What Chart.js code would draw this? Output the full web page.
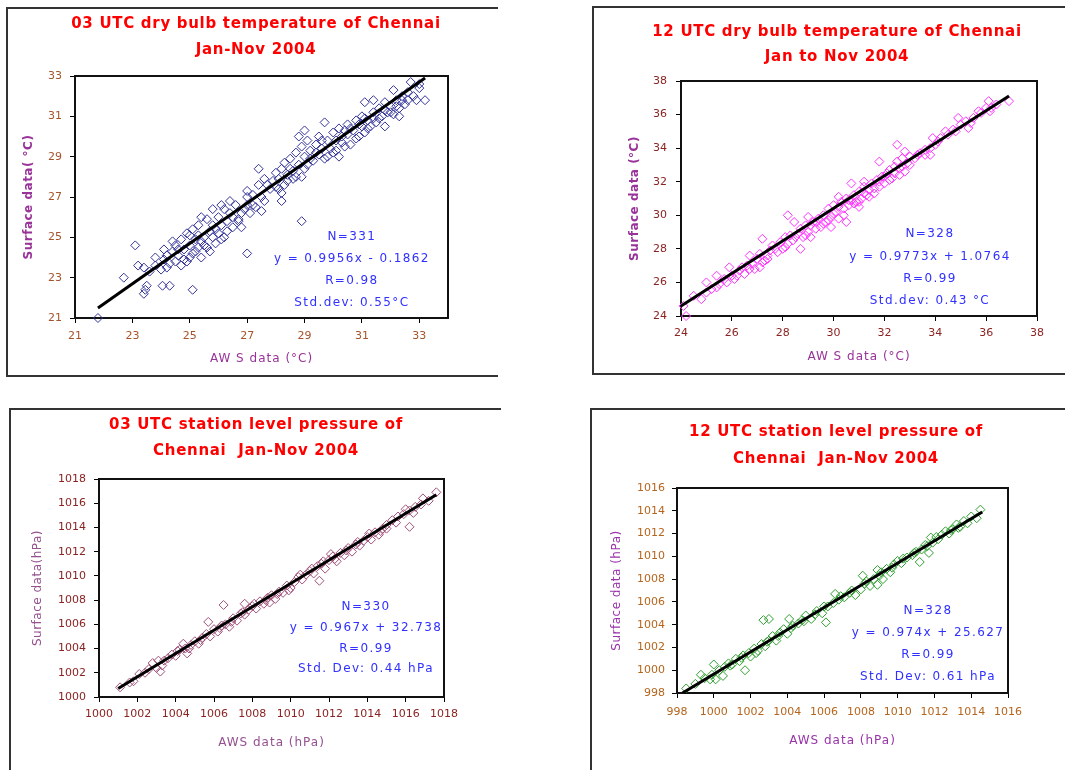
<!DOCTYPE html>
<html>
<head>
<meta charset="utf-8">
<script src="https://cdn.jsdelivr.net/npm/chart.js@4.4.1/dist/chart.umd.min.js"></script>
<style>
  body { margin: 0; width: 1065px; height: 770px; overflow: hidden; background: #fff; position: relative; }
  .box { position: absolute; border-top: 2px solid #333; border-left: 2px solid #333; border-bottom: 2px solid #333; }
  canvas { position: absolute; }
</style>
</head>
<body>
<div class="box" style="left:6px;top:7px;width:490px;height:366px"></div>
<div class="box" style="left:592px;top:6px;width:480px;height:365px"></div>
<div class="box" style="left:9px;top:408px;width:490px;height:400px"></div>
<div class="box" style="left:590px;top:408px;width:480px;height:400px"></div>
<canvas id="t03" width="449" height="364" style="left:9px;top:10px"></canvas>
<canvas id="t12" width="470" height="362" style="left:595px;top:9px"></canvas>
<canvas id="p03" width="458" height="359" style="left:12px;top:411px"></canvas>
<canvas id="p12" width="472" height="359" style="left:593px;top:411px"></canvas>
<script>
// 03 UTC dry bulb temperature, [AWS, surface] in °C
const t03Points = [
  [21.8,21.0],[22.7,23.0],[23.1,24.6],[23.2,23.6],[23.4,22.2],[23.45,22.4],[23.5,22.6],[23.4,23.5],
  [23.8,24.0],[24.05,22.6],[24.3,22.6],[24.1,24.4],[25.1,22.4],[24.4,24.8],[25.4,26.0],[25.8,26.4],
  [26.1,26.6],[26.4,26.8],[26.7,25.8],[26.8,25.5],[27.0,24.2],[27.0,27.3],[27.4,28.4],[28.2,26.8],
  [28.9,25.8],[28.8,30.0],[29.0,30.3],[29.7,30.7],[31.1,31.7],[31.4,31.8],[31.8,30.5],[32.1,32.3],
  [32.7,32.7],[32.9,31.8],[33.2,31.8],[33.0,32.4],[28.2,27.2],
  [23.6,23.3],[23.8,23.6],[24.0,23.4],[24.1,23.9],[24.2,24.1],[24.3,23.7],[24.4,24.3],[24.5,23.8],
  [24.5,24.6],[24.6,24.1],[24.7,23.6],[24.7,24.9],[24.8,24.4],[24.9,23.8],[24.9,25.2],[25.0,24.6],
  [25.0,24.0],[25.1,25.4],[25.2,24.3],[25.2,24.9],[25.3,25.6],[25.3,24.5],[25.4,24.0],[25.5,25.0],
  [25.5,24.6],[25.6,25.9],[25.7,25.3],[25.7,24.3],[25.8,25.6],[25.9,24.7],[26.0,25.2],[26.0,26.0],
  [26.1,25.6],[26.2,26.4],[26.2,25.0],[26.3,25.8],[26.4,26.2],[26.5,25.5],[26.6,26.6],[26.7,25.9],
  [26.9,26.4],[27.0,27.0],[27.0,26.6],[27.1,26.2],[27.2,27.1],[27.3,26.5],[27.4,27.6],[27.5,27.0],
  [27.6,26.8],[27.6,27.9],[27.8,27.4],[27.9,27.8],[28.0,28.2],[28.0,27.5],[28.1,27.9],[28.2,28.4],
  [28.3,27.6],[28.3,28.7],[28.4,28.1],[28.5,28.9],[28.6,28.3],[28.6,27.9],[28.7,29.2],[28.8,28.6],
  [28.9,28.0],[28.9,29.5],[29.0,29.0],[29.1,28.6],[29.1,29.8],[29.2,29.3],[29.3,28.8],[29.4,29.6],
  [29.5,29.1],[29.5,30.0],[29.6,29.4],[29.7,28.9],[29.8,29.8],[29.9,29.4],[30.0,30.2],[30.0,29.2],
  [30.1,29.8],[30.2,30.4],[30.2,29.0],[30.3,30.0],[30.4,29.5],[30.5,30.6],[30.5,30.1],[30.6,29.6],
  [30.7,30.3],[30.8,30.8],[30.9,30.0],[31.0,30.5],[31.0,31.0],[31.1,30.2],[31.2,30.8],[31.3,30.5],
  [31.4,31.2],[31.5,30.7],[31.6,31.4],[31.7,31.0],[31.8,31.7],[31.9,31.2],[32.0,31.5],[32.1,31.1],
  [32.2,31.8],[32.3,31.4],[32.4,32.0],[32.5,31.6],[32.6,32.2],[32.8,32.0],[33.0,32.6],
  [24.2,23.5],[24.6,24.4],[24.8,23.9],[25.0,25.1],[25.1,24.2],[25.3,25.1],[25.4,24.8],[25.6,24.5],
  [25.8,25.0],[25.9,25.4],[26.1,24.9],[26.3,25.3],[26.5,26.0],[26.8,26.2],[27.2,26.6],[27.5,26.3],
  [27.7,27.6],[28.1,27.4],[28.4,27.8],[28.5,28.4],[28.7,28.0],[29.0,28.4],[29.2,28.9],[29.4,29.2],
  [29.6,29.8],[29.8,29.0],[30.1,29.3],[30.3,29.7],[30.4,30.3],[30.6,30.4],[30.8,29.9],[30.9,30.6],
  [31.1,30.9],[31.2,30.4],[31.4,30.9],[31.6,30.9],[31.8,31.3],[32.0,31.2],[32.2,31.5],[32.4,31.8],
  [32.3,31.0],[32.6,31.8]
];
const t03Fit = [[21.8,21.5],[33.2,32.9]];
const t03XTicks = [21,23,25,27,29,31,33];
const t03YTicks = [21,23,25,27,29,31,33];
const t03Stats = ['N=331', 'y = 0.9956x - 0.1862', 'R=0.98', 'Std.dev: 0.55°C'];

// 12 UTC dry bulb temperature
const t12Points = [
  [24.2,24.0],[24.1,24.6],[24.5,25.2],[24.8,25.0],[25.0,26.0],[25.4,26.4],[25.9,26.9],[26.2,26.4],
  [26.7,27.6],[27.1,26.9],[27.2,28.6],[27.4,27.4],[28.2,30.0],[28.45,29.6],[28.7,28.0],[29.0,29.9],
  [29.9,29.3],[30.2,31.1],[30.5,29.6],[30.7,31.9],[31.0,30.5],[31.2,32.0],[31.8,33.2],[32.5,34.2],
  [32.6,32.4],[32.8,33.8],[32.8,32.6],[33.8,33.6],[33.9,34.6],[34.4,35.0],[34.9,35.8],[35.3,35.2],
  [35.7,36.2],[36.1,36.8],[36.15,36.2],[36.9,36.8],
  [25.2,25.6],[25.5,25.9],[25.7,26.2],[25.8,26.0],[26.0,26.4],[26.3,26.7],[26.5,26.5],[26.6,27.0],
  [26.8,27.1],[26.9,26.8],[27.0,27.4],[27.1,27.7],[27.3,27.3],[27.5,27.9],[27.6,28.2],[27.8,27.8],
  [27.9,28.4],[28.0,28.0],[28.1,28.7],[28.2,28.3],[28.3,28.8],[28.4,28.5],[28.6,28.9],[28.7,29.2],
  [28.8,28.7],[28.9,29.4],[29.0,29.0],[29.1,28.7],[29.2,29.6],[29.3,29.2],[29.4,29.8],[29.5,29.3],
  [29.6,30.0],[29.7,29.6],[29.8,30.4],[29.9,29.9],[30.0,30.6],[30.1,30.2],[30.2,29.8],[30.3,30.8],
  [30.4,30.4],[30.5,31.0],[30.6,30.6],[30.7,30.9],[30.8,31.2],[30.9,30.8],[31.0,31.4],[31.1,31.0],
  [31.2,31.7],[31.3,31.2],[31.4,31.5],[31.5,31.9],[31.6,31.3],[31.7,32.1],[31.8,31.7],[31.9,32.3],
  [32.0,31.9],[32.1,32.5],[32.2,32.7],[32.3,32.2],[32.4,32.9],[32.5,33.2],[32.6,32.8],[32.7,33.4],
  [32.9,33.1],[33.0,33.5],[33.2,33.4],[33.4,33.7],[33.6,33.9],[33.8,34.0],[34.0,34.2],[34.2,34.6],
  [34.5,34.8],[34.7,35.1],[35.0,35.4],[35.2,35.6],[35.5,35.8],[35.8,36.1],[36.0,36.4],[36.4,36.6],
  [25.0,25.4],[25.4,25.7],[26.1,26.2],[26.4,26.9],[26.7,26.8],[27.2,27.2],[27.4,27.6],[27.7,28.0],
  [28.1,28.1],[28.5,28.7],[28.9,28.8],[29.1,29.4],[29.3,29.6],[29.6,29.5],[29.8,29.7],[30.0,30.1],
  [30.2,30.5],[30.4,30.0],[30.6,30.9],[30.8,30.7],[31.0,30.8],[31.2,31.3],[31.4,31.1],[31.6,31.6],
  [31.8,32.0],[32.0,32.3],[32.2,32.1],[32.4,32.5],[32.7,32.9],[33.0,33.0],[33.3,33.6],[33.6,33.6],
  [34.1,34.4],[34.8,35.0],[35.4,35.5],[36.2,36.4]
];
const t12Fit = [[24.0,24.6],[36.9,37.1]];
const t12XTicks = [24,26,28,30,32,34,36,38];
const t12YTicks = [24,26,28,30,32,34,36,38];
const t12Stats = ['N=328', 'y = 0.9773x + 1.0764', 'R=0.99', 'Std.dev: 0.43 °C'];

// 03 UTC station level pressure, hPa
const p03Points = [
  [1001.1,1000.8],[1001.6,1001.2],[1002.1,1001.9],[1002.8,1002.8],[1003.2,1002.1],[1003.1,1003.0],
  [1004.4,1004.4],[1004.6,1003.6],[1005.7,1006.2],[1006.5,1007.6],[1007.6,1007.7],[1008.9,1007.8],
  [1011.5,1009.6],[1012.1,1011.8],[1016.2,1014.05],[1017.6,1016.9],[1015.0,1013.9],[1016.9,1016.4],
  [1001.8,1001.3],[1002.4,1002.0],[1003.0,1002.4],[1003.4,1003.0],[1003.6,1003.2],[1003.8,1003.5],
  [1004.0,1003.4],[1004.2,1003.9],[1004.5,1004.0],[1004.8,1004.3],[1005.0,1004.6],[1005.2,1004.4],
  [1005.4,1004.9],[1005.6,1005.2],[1005.8,1005.0],[1006.0,1005.6],[1006.2,1005.4],[1006.4,1005.9],
  [1006.6,1006.0],[1006.8,1005.8],[1007.0,1006.5],[1007.2,1006.3],[1007.4,1006.9],[1007.6,1006.8],
  [1007.8,1007.2],[1008.0,1007.5],[1008.2,1007.3],[1008.4,1007.9],[1008.6,1007.7],[1008.8,1008.2],
  [1009.0,1008.4],[1009.2,1008.1],[1009.4,1008.7],[1009.6,1008.6],[1009.8,1009.2],[1010.0,1009.0],
  [1010.2,1009.5],[1010.4,1009.9],[1010.6,1009.7],[1010.8,1010.1],[1011.0,1010.4],[1011.2,1010.2],
  [1011.4,1010.8],[1011.6,1011.0],[1011.8,1010.6],[1012.0,1011.3],[1012.2,1011.6],[1012.4,1011.2],
  [1012.6,1011.9],[1012.8,1011.7],[1013.0,1012.3],[1013.2,1012.0],[1013.4,1012.6],[1013.6,1012.5],
  [1013.8,1012.9],[1014.0,1013.2],[1014.2,1013.0],[1014.4,1013.6],[1014.6,1013.4],[1014.8,1013.9],
  [1015.0,1014.2],[1015.3,1014.6],[1015.6,1014.9],[1015.9,1015.1],[1016.2,1015.4],[1016.5,1015.7],
  [1016.8,1015.9],
  [1002.6,1002.3],[1003.3,1002.6],[1004.1,1003.8],[1004.7,1004.0],[1005.3,1004.7],[1006.3,1005.7],
  [1006.9,1006.2],[1007.5,1007.0],[1008.1,1007.7],[1008.7,1008.0],[1009.3,1008.5],[1009.9,1008.8],
  [1010.5,1010.1],[1011.1,1010.6],[1011.7,1011.2],[1012.3,1011.4],[1012.9,1012.1],[1013.5,1012.8],
  [1014.1,1013.5],[1014.7,1013.7],[1015.5,1014.4],[1016.0,1015.5],[1016.4,1015.2],[1017.2,1016.2]
];
const p03Fit = [[1001.0,1000.7],[1017.6,1016.7]];
const p03XTicks = [1000,1002,1004,1006,1008,1010,1012,1014,1016,1018];
const p03YTicks = [1000,1002,1004,1006,1008,1010,1012,1014,1016,1018];
const p03Stats = ['N=330', 'y = 0.967x + 32.738', 'R=0.99', 'Std. Dev: 0.44 hPa'];

// 12 UTC station level pressure
const p12Points = [
  [998.5,998.4],[999.3,999.6],[999.8,999.2],[1000.0,1000.5],[1000.1,999.2],[1000.5,999.5],
  [1001.7,1000.0],[1002.7,1004.4],[1003.0,1004.5],[1004.1,1004.5],[1006.1,1004.2],[1006.6,1006.7],
  [1008.1,1008.3],[1008.9,1008.8],[1008.9,1007.5],[1011.2,1009.5],[1011.7,1010.3],[1011.8,1011.65],
  [1014.5,1014.1],[1014.3,1013.35],
  [999.0,998.8],[999.5,999.3],[1000.3,1000.0],[1000.6,1000.3],[1000.8,1000.6],[1001.0,1000.5],
  [1001.2,1001.0],[1001.4,1000.8],[1001.6,1001.3],[1001.9,1001.5],[1002.0,1001.2],[1002.2,1001.9],
  [1002.4,1001.7],[1002.6,1002.3],[1002.8,1002.1],[1003.0,1002.6],[1003.2,1003.0],[1003.4,1002.6],
  [1003.6,1003.3],[1003.8,1003.6],[1004.0,1003.2],[1004.3,1003.9],[1004.6,1004.1],[1004.8,1004.4],
  [1005.0,1004.8],[1005.3,1004.5],[1005.6,1005.2],[1005.9,1005.0],[1006.2,1005.6],[1006.5,1005.9],
  [1006.8,1006.2],[1007.1,1006.4],[1007.4,1006.8],[1007.7,1006.6],[1008.0,1007.1],[1008.2,1007.6],
  [1008.5,1007.4],[1008.7,1008.0],[1009.0,1008.3],[1009.2,1008.0],[1009.4,1008.9],[1009.6,1008.6],
  [1009.8,1009.3],[1010.0,1009.6],[1010.2,1009.4],[1010.5,1009.9],[1010.8,1010.1],[1011.0,1010.4],
  [1011.3,1010.6],[1011.5,1011.0],[1011.9,1011.2],[1012.2,1011.5],[1012.4,1011.9],[1012.6,1012.2],
  [1012.8,1012.0],[1013.0,1012.4],[1013.2,1012.8],[1013.4,1012.6],[1013.6,1013.1],[1013.8,1012.9],
  [999.9,999.6],[1000.9,1000.4],[1001.5,1001.1],[1002.3,1001.5],[1002.9,1002.5],[1003.5,1003.0],
  [1004.2,1003.7],[1004.9,1004.3],[1005.5,1004.9],[1006.0,1005.6],[1006.9,1006.5],[1007.5,1007.0],
  [1008.3,1007.8],[1009.1,1008.6],[1009.7,1009.0],[1010.3,1009.8],[1010.9,1010.3],[1011.6,1010.9],
  [1012.1,1011.7],[1012.9,1012.3],[1013.3,1012.5],[1014.0,1013.5]
];
const p12Fit = [[998.3,998.0],[1014.6,1013.9]];
const p12XTicks = [998,1000,1002,1004,1006,1008,1010,1012,1014,1016];
const p12YTicks = [998,1000,1002,1004,1006,1008,1010,1012,1014,1016];
const p12Stats = ['N=328', 'y = 0.974x + 25.627', 'R=0.99', 'Std. Dev: 0.61 hPa'];

Chart.defaults.font.family = '"DejaVu Sans", Verdana, sans-serif';
Chart.defaults.animation = false;

// plot frame, two-line red title and spaced-out axis titles
const framePlugin = {
  id: 'frame',
  beforeDatasetsDraw(chart, args, opts) {
    const { ctx, chartArea: a } = chart;
    ctx.save();
    ctx.strokeStyle = '#111';
    ctx.lineWidth = 2;
    ctx.strokeRect(a.left, a.top, a.right - a.left, a.bottom - a.top);
    ctx.textAlign = 'center';
    ctx.textBaseline = 'middle';

    ctx.font = 'bold 15px "DejaVu Sans"';
    ctx.letterSpacing = '0.7px';
    ctx.fillStyle = '#ff0000';
    opts.title.forEach((t, i) => ctx.fillText(t, opts.titleX, opts.titleY[i]));

    ctx.fillStyle = opts.axisColor;
    ctx.font = '12px "DejaVu Sans"';
    ctx.letterSpacing = '1px';
    ctx.fillText(opts.xTitle, (a.left + a.right) / 2, a.bottom + opts.xTitleOff);

    ctx.font = (opts.yTitleBold ? 'bold ' : '') + '12px "DejaVu Sans"';
    ctx.letterSpacing = '0.5px';
    ctx.translate(a.left - opts.yTitleOff, (a.top + a.bottom) / 2);
    ctx.rotate(-Math.PI / 2);
    ctx.fillText(opts.yTitle, 0, 0);
    ctx.restore();
  }
};

// regression statistics text, anchored in data units
const statsPlugin = {
  id: 'stats',
  afterDatasetsDraw(chart, args, opts) {
    const { ctx, scales: { x, y } } = chart;
    const cx = x.getPixelForValue(opts.at[0]);
    const cy = y.getPixelForValue(opts.at[1]);
    ctx.save();
    ctx.font = '12px "DejaVu Sans"';
    ctx.letterSpacing = '1.4px';
    ctx.fillStyle = '#3030ff';
    ctx.textAlign = 'center';
    ctx.textBaseline = 'middle';
    opts.lines.forEach((t, i) => ctx.fillText(t, cx, cy + i * opts.gap));
    ctx.restore();
  }
};

function toXY(pairs) {
  return pairs.map(p => ({ x: p[0], y: p[1] }));
}

function makePanel(id, p) {
  new Chart(document.getElementById(id), {
    type: 'scatter',
    data: {
      datasets: [
        {
          data: toXY(p.fit),
          showLine: true,
          borderColor: '#000',
          borderWidth: 3,
          pointRadius: 0
        },
        {
          data: toXY(p.points),
          pointStyle: 'rectRot',
          pointRadius: 4.5,
          borderWidth: 1,
          borderColor: p.pointColor,
          backgroundColor: 'rgba(0,0,0,0)',
          clip: false
        }
      ]
    },
    options: {
      responsive: false,
      events: [],
      layout: { padding: { top: p.pad[0], right: p.pad[1], bottom: p.pad[2], left: 0 } },
      plugins: {
        legend: { display: false },
        tooltip: { enabled: false },
        frame: {
          title: p.title, titleX: p.titleX, titleY: p.titleY,
          xTitle: p.xTitle, yTitle: p.yTitle, yTitleBold: p.yTitleBold, axisColor: p.titleColor,
          xTitleOff: p.xTitleOff, yTitleOff: p.yTitleOff
        },
        stats: { lines: p.stats, at: p.statsAt, gap: p.statsGap }
      },
      scales: {
        x: {
          type: 'linear',
          min: p.xRange[0],
          max: p.xRange[1],
          afterBuildTicks: s => { s.ticks = p.xTicks.map(v => ({ value: v })); },
          afterFit: s => { s.height = p.xH; },
          border: { display: false },
          grid: { drawOnChartArea: false, tickLength: 5, color: '#000' },
          ticks: { color: p.tickColor, font: { size: 11 }, padding: p.xTickPad, maxRotation: 0, callback: v => String(v) }
        },
        y: {
          type: 'linear',
          min: p.yRange[0],
          max: p.yRange[1],
          afterBuildTicks: s => { s.ticks = p.yTicks.map(v => ({ value: v })); },
          afterFit: s => { s.width = p.yW; },
          border: { display: false },
          grid: { drawOnChartArea: false, tickLength: 5, color: '#000' },
          ticks: { color: p.tickColor, font: { size: 11 }, padding: p.yTickPad, callback: v => String(v) }
        }
      }
    },
    plugins: [framePlugin, statsPlugin]
  });
}

makePanel('t03', {
  points: t03Points, fit: t03Fit, xTicks: t03XTicks, yTicks: t03YTicks, stats: t03Stats,
  xRange: [21, 34], yRange: [21, 33],
  title: ['03 UTC dry bulb temperature of Chennai', 'Jan-Nov 2004'], titleX: 247, titleY: [14, 40],
  xTitle: 'AW S data (°C)', yTitle: 'Surface data( °C)', yTitleBold: true,
  pointColor: '#333399', tickColor: '#a5532a', titleColor: '#993399',
  pad: [66, 10, 0], yW: 66, xH: 56, xTickPad: 7, yTickPad: 8, xTitleOff: 41, yTitleOff: 46,
  statsAt: [30.65, 25.0], statsGap: 22
});

makePanel('t12', {
  points: t12Points, fit: t12Fit, xTicks: t12XTicks, yTicks: t12YTicks, stats: t12Stats,
  xRange: [24, 38], yRange: [24, 38],
  title: ['12 UTC dry bulb temperature of Chennai', 'Jan to Nov 2004'], titleX: 242, titleY: [23, 48],
  xTitle: 'AW S data (°C)', yTitle: 'Surface data (°C)', yTitleBold: true,
  pointColor: '#ff33ff', tickColor: '#8b2323', titleColor: '#993399',
  pad: [72, 28, 0], yW: 86, xH: 55, xTickPad: 6, yTickPad: 9, xTitleOff: 41, yTitleOff: 46,
  statsAt: [33.79, 28.88], statsGap: 22.3
});

makePanel('p03', {
  points: p03Points, fit: p03Fit, xTicks: p03XTicks, yTicks: p03YTicks, stats: p03Stats,
  xRange: [1000, 1018], yRange: [1000, 1018],
  title: ['03 UTC station level pressure of', 'Chennai  Jan-Nov 2004'], titleX: 244, titleY: [14, 40],
  xTitle: 'AWS data (hPa)', yTitle: 'Surface data(hPa)', yTitleBold: false,
  pointColor: '#a0507a', tickColor: '#8b2323', titleColor: '#94508f',
  pad: [68, 26, 18], yW: 87, xH: 55, xTickPad: 6, yTickPad: 8, xTitleOff: 46, yTitleOff: 61,
  statsAt: [1013.93, 1007.43], statsGap: 20.7
});

makePanel('p12', {
  points: p12Points, fit: p12Fit, xTicks: p12XTicks, yTicks: p12YTicks, stats: p12Stats,
  xRange: [998, 1016], yRange: [998, 1016],
  title: ['12 UTC station level pressure of', 'Chennai  Jan-Nov 2004'], titleX: 243, titleY: [21, 48],
  xTitle: 'AWS data (hPa)', yTitle: 'Surface data (hPa)', yTitleBold: false,
  pointColor: '#2e9e2e', tickColor: '#b5651d', titleColor: '#9933aa',
  pad: [77, 57, 22], yW: 84, xH: 55, xTickPad: 8, yTickPad: 7, xTitleOff: 48, yTitleOff: 60,
  statsAt: [1011.65, 1005.2], statsGap: 22
});
</script>
</body>
</html>
